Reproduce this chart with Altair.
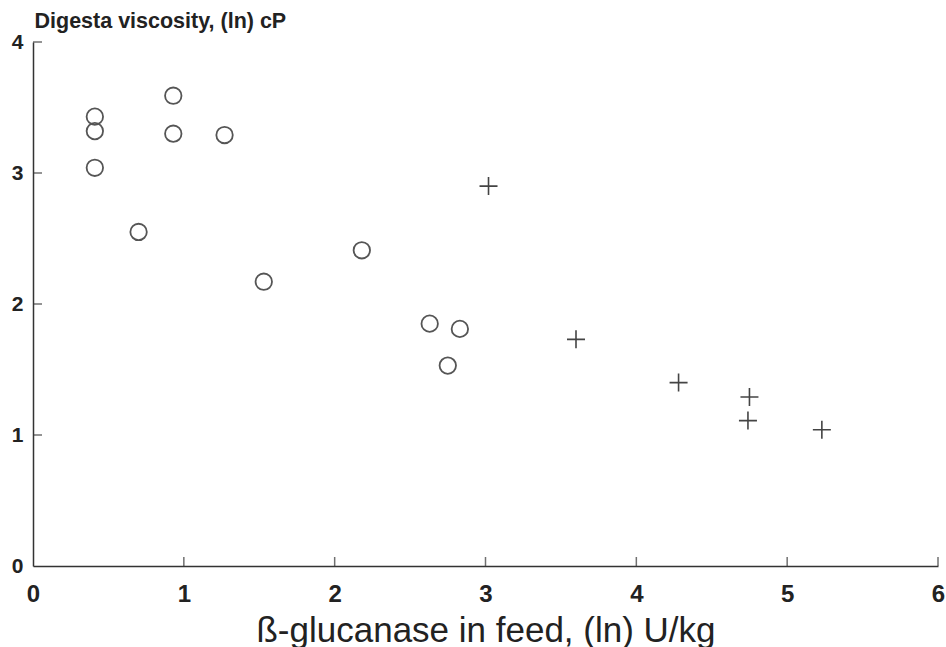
import altair as alt
import pandas as pd

# Data (natural-log scales)
circle_x = [0.41, 0.41, 0.41, 0.93, 0.93, 1.27, 0.70, 1.53, 2.18, 2.63, 2.83, 2.75]
circle_y = [3.43, 3.32, 3.04, 3.59, 3.30, 3.29, 2.55, 2.17, 2.41, 1.85, 1.81, 1.53]
cross_x = [3.02, 3.60, 4.28, 4.75, 4.74, 5.23]
cross_y = [2.90, 1.73, 1.40, 1.29, 1.11, 1.04]

x_ticks = [0, 1, 2, 3, 4, 5, 6]
y_ticks = [0, 1, 2, 3, 4]

x_title = "ß-glucanase in feed, (ln) U/kg"
y_title = "Digesta viscosity, (ln) cP"

FONT = "Liberation Sans"
INK = "#333333"
PT = "#555555"

circ_df = pd.DataFrame({"x": circle_x, "y": circle_y})
cross_df = pd.DataFrame({"x": cross_x, "y": cross_y})
xt_df = pd.DataFrame({"x": x_ticks[1:]})
yt_df = pd.DataFrame({"y": y_ticks[1:]})

xscale = alt.Scale(domain=[0, 6], nice=False, zero=False)
yscale = alt.Scale(domain=[0, 4], nice=False, zero=False)

xaxis = alt.Axis(
    values=x_ticks, ticks=False, grid=False, format="d",
    labelFont=FONT, labelFontSize=24, labelFontWeight="bold", labelColor="#222",
    labelPadding=16, labelFlush=False, labelOverlap=False,
    domainColor=INK, domainWidth=1.5,
    title=x_title, titleFont=FONT, titleFontSize=35, titleFontWeight="normal",
    titleColor="#222", titleBaseline="alphabetic", titleY=75,
)
yaxis = alt.Axis(
    values=y_ticks, ticks=False, grid=False, format="d",
    labelFont=FONT, labelFontSize=21, labelFontWeight="bold", labelColor="#222",
    labelPadding=10, labelFlush=False, labelOverlap=False,
    domainColor=INK, domainWidth=1.5,
    title=y_title, titleFont=FONT, titleFontSize=21.5, titleFontWeight="bold",
    titleColor="#222", titleAngle=0, titleAlign="left", titleBaseline="alphabetic",
    titleX=1, titleY=-15,
)

X = alt.X("x:Q", scale=xscale, axis=xaxis)
Y = alt.Y("y:Q", scale=yscale, axis=yaxis)

circles = alt.Chart(circ_df).mark_point(
    shape="circle", filled=False, size=270, strokeWidth=1.8, color=PT, opacity=1
).encode(x=X, y=Y)

crosses = alt.Chart(cross_df).mark_point(
    shape="M-1,0L1,0M0,-1L0,1", filled=False, size=324, strokeWidth=1.6, color="#444", opacity=1
).encode(x=X, y=Y)

xticks = alt.Chart(xt_df).mark_tick(
    orient="vertical", size=9, thickness=1.5, color=INK, yOffset=-4.5
).encode(
    x=X,
    y=alt.datum(0, scale=yscale, axis=yaxis),
)

yticks = alt.Chart(yt_df).mark_tick(
    orient="horizontal", size=9, thickness=1.5, color=INK, xOffset=4.5
).encode(
    y=Y,
    x=alt.datum(0, scale=xscale, axis=xaxis),
)

chart = alt.layer(circles, crosses, xticks, yticks).properties(
    width=905,
    height=524,
    autosize=alt.AutoSizeParams(type="none"),
    padding={"left": 33, "top": 42, "right": 8, "bottom": 81},
    background="white",
).configure_view(stroke=None)

chart.save("out.html", embed_options={"renderer": "svg", "actions": False})
